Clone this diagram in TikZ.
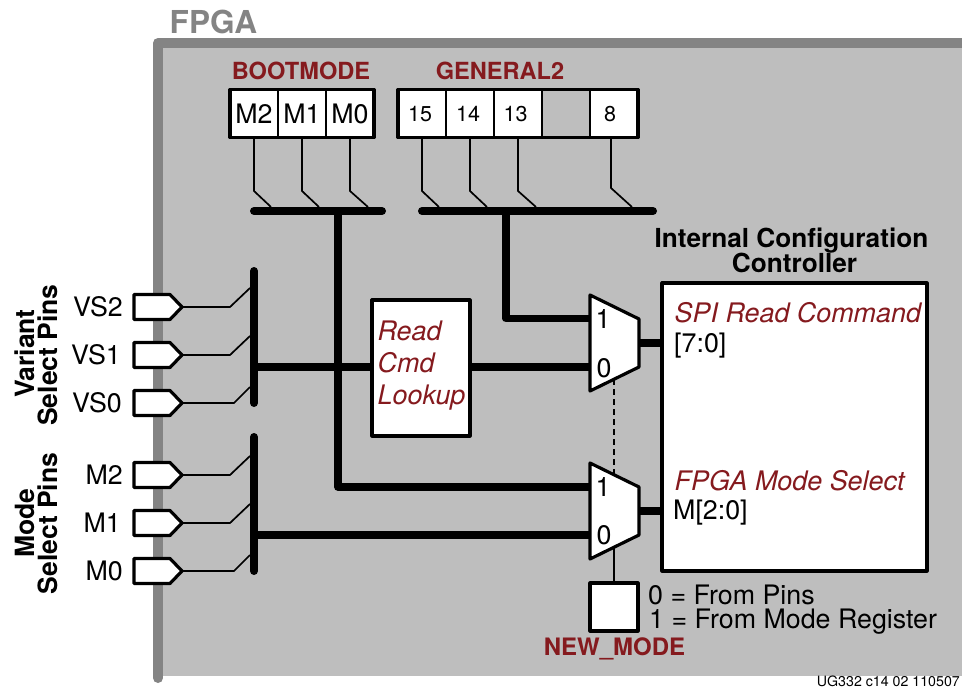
\documentclass[tikz,border=0pt]{standalone}
\usepackage{fontspec}
\setmainfont{TeX Gyre Heros}
\definecolor{framegray}{HTML}{848484}
\definecolor{panelgray}{HTML}{BEBEBE}
\definecolor{xred}{HTML}{851A1E}
\tikzset{
  thick bus/.style={line width=8pt,line cap=round,line join=round},
  trunk/.style={line width=7.5pt,line join=round},
  thin wire/.style={line width=1.7pt,line join=miter},
  blockbox/.style={draw=black,line width=3.2pt,fill=white,inner sep=0pt,line join=round},
  cell/.style={draw=black,line width=2.6pt,fill=white,inner sep=0pt,outer sep=0pt,minimum width=48pt,minimum height=47.5pt,font=\fontsize{26.8}{26.8}\selectfont},
  cellnum/.style={inner sep=0pt,anchor=base,font=\fontsize{21.5}{21.5}\selectfont},
  pin/.style={draw=black,line width=3.2pt,fill=white,line join=round},
  mux/.style={draw=black,line width=3.2pt,fill=white,line join=round},
  txt/.style={inner sep=0pt,font=\fontsize{26.8}{26.8}\selectfont},
  redtitle/.style={inner sep=0pt,anchor=base,text=xred,font=\fontsize{23.6}{23.6}\selectfont\bfseries},
  reditalic/.style={inner sep=0pt,anchor=base west,text=xred,font=\fontsize{26.9}{26.9}\selectfont\itshape},
  boldlab/.style={inner sep=0pt,anchor=base,font=\fontsize{26.2}{26.2}\selectfont\bfseries},
  rotlab/.style={inner sep=0pt,anchor=base,rotate=90,font=\fontsize{26.5}{26.5}\selectfont\bfseries},
}
\begin{document}
\begin{tikzpicture}[x=1pt,y=-1pt]
\useasboundingbox (0,0) rectangle (962,688);
% panel
\fill[panelgray] (158,43) rectangle (962,675.5);
\coordinate (fa) at (158,678);
\coordinate (fb) at (158,43);
\coordinate (fc) at (964,43);
\draw[framegray,line width=10pt,line cap=round,line join=round] (fa) -- (fb) -- (fc);
\node[inner sep=0pt,anchor=base west,text=framegray,font=\fontsize{31.6}{31.6}\selectfont\bfseries] (fpga) at (169.5,34) {FPGA};

% buses
\coordinate (bbL) at (254,211); \coordinate (bbR) at (382,211);
\coordinate (gbL) at (422,211); \coordinate (gbR) at (653,211);
\coordinate (vbT) at (254,271); \coordinate (vbB) at (254,403);
\coordinate (mbT) at (254,437); \coordinate (mbB) at (254,571);

% thick routes (behind boxes)
\coordinate (bbJ) at (338,211); \coordinate (bbK) at (338,487);
\coordinate (gbJ) at (506,211); \coordinate (gbK) at (506,318.5);
\coordinate (vbJ) at (254,367); \coordinate (mbJ) at (254,535);
\coordinate (m1a) at (590,318.5); \coordinate (m1b) at (590,367);
\coordinate (m2a) at (590,487); \coordinate (m2b) at (590,535);
\draw[trunk] (bbJ) -- (bbK) -- (m2a);
\draw[trunk] (gbJ) -- (gbK) -- (m1a);
\draw[trunk] (vbJ) -- (m1b);
\draw[trunk] (mbJ) -- (m2b);
\draw[thick bus] (bbL) -- (bbR);
\draw[thick bus] (gbL) -- (gbR);
\draw[thick bus] (vbT) -- (vbB);
\draw[thick bus] (mbT) -- (mbB);

% titles
\node[redtitle] (tboot) at (301,79) {BOOTMODE};
\node[redtitle] (tgen) at (500,79) {GENERAL2};
\node[redtitle,font=\fontsize{24}{24}\selectfont\bfseries] (tnew) at (614.5,655) {NEW\_MODE};

% registers
\node[cell] (rm2) at (254,113.5) {M2};
\node[cell] (rm1) at (302,113.5) {M1};
\node[cell] (rm0) at (350,113.5) {M0};
\draw[line width=3.2pt,line join=round] (rm2.north west) rectangle (rm0.south east);
\node[cell] (g15) at (422,113.5) {};
\node[cell] (g14) at (470,113.5) {};
\node[cell] (g13) at (518,113.5) {};
\node[cell,fill=panelgray] (gx) at (566,113.5) {};
\node[cell] (g8) at (614,113.5) {};
\draw[line width=3.2pt,line join=round] (g15.north west) rectangle (g8.south east);
\node[cellnum] (n15) at (420,121) {15};
\node[cellnum] (n14) at (468,121) {14};
\node[cellnum] (n13) at (515.5,121) {13};
\node[cellnum] (n8) at (610,121) {8};

% register stubs
\foreach \n/\x/\ex/\by in {rm2/254/271/191,rm1/302/319/191,rm0/350/368/191,g15/422/439/191,g14/470/487/191,g13/518/536/191,g8/611/632/188}{
  \coordinate (\n top) at (\x,138);
  \coordinate (\n bend) at (\x,\by);
  \coordinate (\n end) at (\ex,207);
  \draw[thin wire] (\n top) -- (\n bend) -- (\n end);
}

% read cmd box
\node[blockbox,minimum width=98pt,minimum height=136pt] (lookup) at (421,368) {};
\node[reditalic] (l1) at (377.5,340) {Read};
\node[reditalic] (l2) at (377.5,372) {Cmd};
\node[reditalic] (l3) at (377.5,404) {Lookup};

% dashed mux link, select
\coordinate (dashA) at (614,379); \coordinate (dashB) at (614,475);
\draw[line width=1.6pt,dash pattern=on 6pt off 4pt] (dashA) -- (dashB);

% controller
\node[blockbox,minimum width=265pt,minimum height=288pt] (icc) at (794.5,427) {};
\coordinate (m1o) at (639,343); \coordinate (m1i) at (662,343);
\coordinate (m2o) at (639,511); \coordinate (m2i) at (662,511);
\draw[trunk] (m1o) -- (m1i);
\draw[trunk] (m2o) -- (m2i);

% muxes
\draw[mux] (590,295) -- (639,319) -- (639,367) -- (590,391) -- cycle;
\draw[mux] (590,463) -- (639,487) -- (639,535) -- (590,559) -- cycle;
\node[txt,anchor=base] (m11) at (603,328) {1};
\node[txt,anchor=base] (m10) at (604,377) {0};
\node[txt,anchor=base] (m21) at (603,496) {1};
\node[txt,anchor=base] (m20) at (604,544) {0};

% new mode
\node[blockbox,minimum width=48pt,minimum height=48pt] (newmode) at (614,607) {};
\coordinate (selA) at (614,547);
\draw[thin wire] (selA) -- (newmode.north);
\node[txt,anchor=base west] (k0) at (648,604) {0 = From Pins};
\node[txt,anchor=base west] (k1) at (649,628) {1 = From Mode Register};

% controller text
\node[boldlab] (c1) at (791.5,247) {Internal Configuration};
\node[boldlab] (c2) at (794.5,272) {Controller};
\node[reditalic] (spi) at (674.5,322) {SPI Read Command};
\node[txt,anchor=base west] (sb) at (674,352) {[7:0]};
\node[reditalic] (fms) at (674.5,490) {FPGA Mode Select};
\node[txt,anchor=base west] (mb) at (673,519) {M[2:0]};

% pins
\foreach \n/\lab/\y/\tx/\ax/\ay in {a/VS2/307/123/230/288,b/VS1/355/121/230/336,c/VS0/403/122/234/387,d/M2/475/123/230/456,e/M1/523/121/230/504,f/M0/571/123/234/555}{
  \draw[pin] (134,\y-12.5) -- (170,\y-12.5) -- (182,\y) -- (170,\y+12.5) -- (134,\y+12.5) -- cycle;
  \node[txt,anchor=base east] (pl\n) at (\tx,\y+9) {\lab};
  \coordinate (ps\n) at (183,\y);
  \coordinate (pb\n) at (\ax,\y);
  \coordinate (pe\n) at (250,\ay);
  \draw[thin wire] (ps\n) -- (pb\n) -- (pe\n);
}
\node[rotlab] (v1) at (34.5,353.5) {Variant};
\node[rotlab] (v2) at (57,355) {Select Pins};
\node[rotlab] (w1) at (34.5,523) {Mode};
\node[rotlab] (w2) at (57,523.5) {Select Pins};

\node[inner sep=0pt,anchor=base east,font=\fontsize{14.2}{14.2}\selectfont] (ug) at (960,686) {UG332 c14 02 110507};
\end{tikzpicture}
\end{document}
